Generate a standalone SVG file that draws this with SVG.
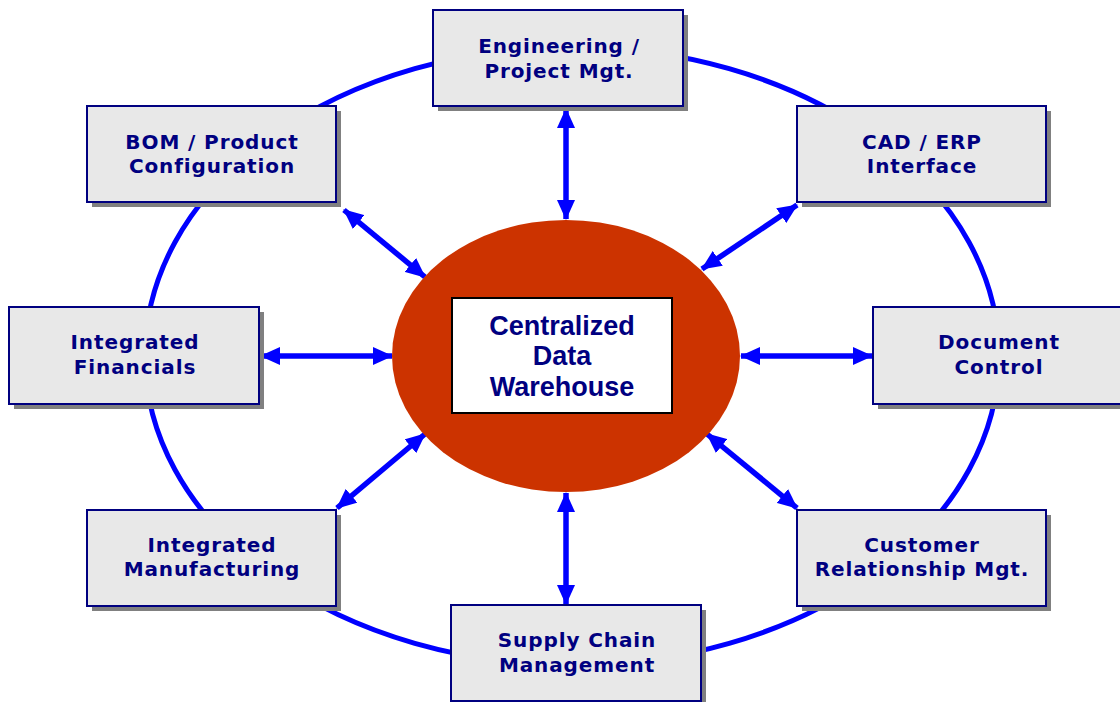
<svg xmlns="http://www.w3.org/2000/svg" width="1120" height="702" viewBox="0 0 1120 702">
<style>
.box{fill:#E8E8E8;stroke:#000080;stroke-width:2}
.sh{fill:#808080}
.t{font-family:"DejaVu Sans",Verdana,sans-serif;font-weight:bold;font-size:20px;letter-spacing:0.9px;fill:#000080;text-anchor:middle}
.c{font-family:"Liberation Sans",Arial,sans-serif;font-weight:bold;font-size:27px;fill:#000080;text-anchor:middle}
.a{stroke:#0000FF;stroke-width:5.5;fill:none;marker-start:url(#ah);marker-end:url(#ah)}
</style>
<defs>
<marker id="ah" viewBox="0 0 20 18" refX="19" refY="9" markerWidth="20" markerHeight="18" markerUnits="userSpaceOnUse" orient="auto-start-reverse">
<path d="M0,0 L20,9 L0,18 Z" fill="#0000FF"/>
</marker>
</defs>
<ellipse id="ring" cx="572" cy="356" rx="427" ry="309" fill="none" stroke="#0000FF" stroke-width="5"/>
<g id="connectors">
<line class="a" x1="566" y1="109" x2="566" y2="219"/>
<line class="a" x1="566" y1="493" x2="566" y2="604"/>
<line class="a" x1="261" y1="356" x2="392" y2="356"/>
<line class="a" x1="741" y1="356" x2="872" y2="356"/>
<line class="a" x1="344" y1="210" x2="425" y2="277"/>
<line class="a" x1="797" y1="205" x2="702" y2="269"/>
<line class="a" x1="337" y1="508" x2="425" y2="434"/>
<line class="a" x1="707" y1="434" x2="797" y2="508"/>
</g>
<g id="center">
<ellipse cx="566" cy="356" rx="174" ry="136" fill="#CC3300"/>
<rect x="452" y="298" width="220" height="115" fill="#FFFFFF" stroke="#000000" stroke-width="2"/>
<text class="c" x="562" y="335">Centralized</text>
<text class="c" x="562" y="365">Data</text>
<text class="c" x="562" y="396">Warehouse</text>
</g>
<g id="eng">
<rect class="sh" x="438" y="15" width="250" height="96"/>
<rect class="box" x="433" y="10" width="250" height="96"/>
<text class="t" x="559" y="53">Engineering /</text>
<text class="t" x="559" y="78">Project Mgt.</text>
</g>
<g id="bom">
<rect class="sh" x="92" y="111" width="249" height="96"/>
<rect class="box" x="87" y="106" width="249" height="96"/>
<text class="t" x="212" y="149">BOM / Product</text>
<text class="t" x="212" y="173">Configuration</text>
</g>
<g id="cad">
<rect class="sh" x="802" y="111" width="249" height="96"/>
<rect class="box" x="797" y="106" width="249" height="96"/>
<text class="t" x="922" y="149">CAD / ERP</text>
<text class="t" x="922" y="173">Interface</text>
</g>
<g id="fin">
<rect class="sh" x="14" y="312" width="250" height="97"/>
<rect class="box" x="9" y="307" width="250" height="97"/>
<text class="t" x="135" y="349">Integrated</text>
<text class="t" x="135" y="374">Financials</text>
</g>
<g id="doc">
<rect class="sh" x="878" y="312" width="250" height="97"/>
<rect class="box" x="873" y="307" width="250" height="97"/>
<text class="t" x="999" y="349">Document</text>
<text class="t" x="999" y="374">Control</text>
</g>
<g id="mfg">
<rect class="sh" x="92" y="515" width="249" height="96"/>
<rect class="box" x="87" y="510" width="249" height="96"/>
<text class="t" x="212" y="552">Integrated</text>
<text class="t" x="212" y="576">Manufacturing</text>
</g>
<g id="crm">
<rect class="sh" x="802" y="515" width="249" height="96"/>
<rect class="box" x="797" y="510" width="249" height="96"/>
<text class="t" x="922" y="552">Customer</text>
<text class="t" x="922" y="576">Relationship Mgt.</text>
</g>
<g id="scm">
<rect class="sh" x="456" y="610" width="250" height="96"/>
<rect class="box" x="451" y="605" width="250" height="96"/>
<text class="t" x="577" y="647">Supply Chain</text>
<text class="t" x="577" y="672">Management</text>
</g>
</svg>
